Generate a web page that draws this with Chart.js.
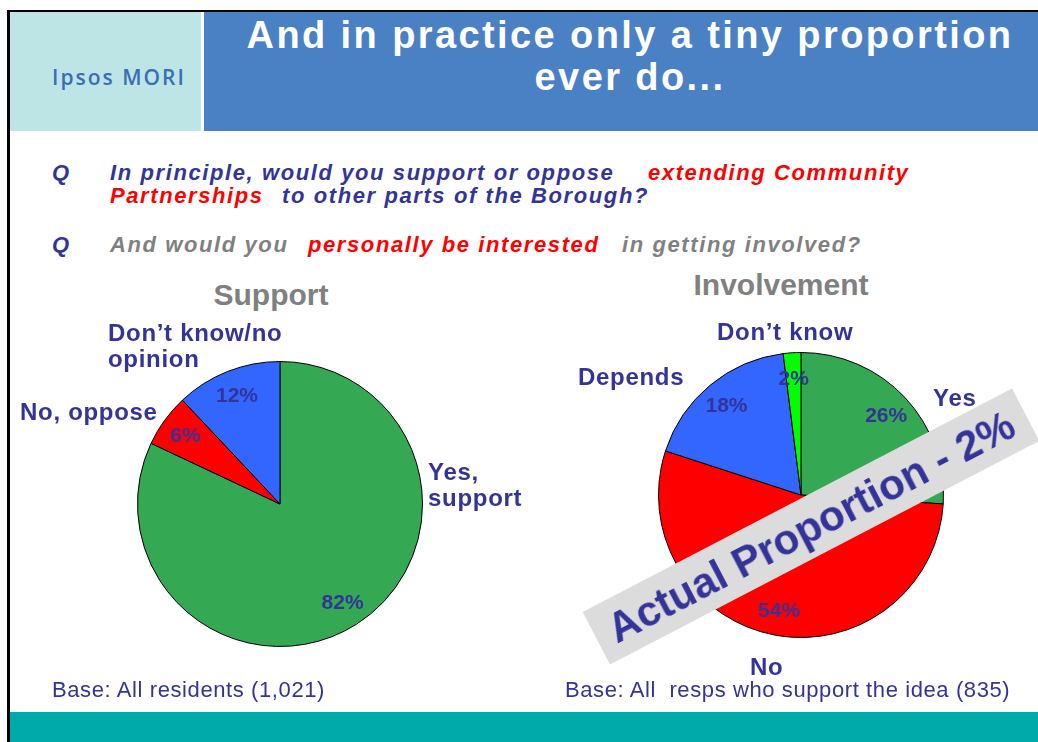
<!DOCTYPE html>
<html>
<head>
<meta charset="utf-8">
<title>Community Partnerships - support and involvement</title>
<script src="https://cdn.jsdelivr.net/npm/chart.js"></script>
<style>
  * { margin: 0; padding: 0; }
  body {
    width: 1038px; height: 742px;
    position: relative; overflow: hidden;
    background: #fff;
    font-family: 'Liberation Sans', Arial, sans-serif;
  }
  .abs { position: absolute; white-space: pre; }
  #frameTop { left: 7px; top: 10px; width: 1031px; height: 2px; background: #000; }
  #frameLeft { left: 7px; top: 10px; width: 3px; height: 732px; background: #000; }
  #logoBox { left: 10px; top: 12px; width: 191px; height: 119px; background: #bde5e5; }
  #titleBox { left: 204px; top: 12px; width: 834px; height: 119px; background: #4a80c4; }
  #footer { left: 10px; top: 712px; width: 1028px; height: 30px; background: #00aaaa; }

  #logo {
    left: 52px; top: 63px;
    font-family: 'Open Sans', sans-serif; font-weight: 600;
    font-size: 21px; line-height: 28px; color: #3a6db7; letter-spacing: 2px;
  }
  #title {
    left: 213px; top: 14px; width: 834px;
    text-align: center; color: #fff;
    font-weight: bold; font-size: 38px; line-height: 42px; letter-spacing: 2.4px;
  }

  .q { font-weight: bold; font-style: italic; font-size: 22px; line-height: 24px; letter-spacing: 1.6px; }
  .navy { color: #333399; }
  .red { color: #ff0000; }
  .grey { color: #808080; }

  .ctitle { font-weight: bold; font-size: 30px; line-height: 34px; color: #808080; text-align: center; width: 300px; }
  .cat { font-weight: bold; font-size: 24px; line-height: 26px; color: #333399; letter-spacing: 0.7px; }
  .base { font-size: 22px; line-height: 24px; color: #333399; letter-spacing: 0.6px; }

  #leftWrap { left: 0; top: 260px; width: 520px; height: 450px; }
  #rightWrap { left: 520px; top: 260px; width: 518px; height: 450px; }

  #banner {
    left: 569px; top: 497px; width: 484px; height: 59px;
    background: #dcdcdc;
    transform: rotate(-27.5deg);
    text-align: center;
    font-weight: bold; font-size: 42px; line-height: 60px; color: #333399;
  }
</style>
</head>
<body>
  <div class="abs" id="frameTop"></div>
  <div class="abs" id="frameLeft"></div>
  <div class="abs" id="logoBox"></div>
  <div class="abs" id="titleBox"></div>
  <div class="abs" id="footer"></div>

  <div class="abs" id="logo">Ipsos MORI</div>
  <div class="abs" id="title">And in practice only a tiny proportion
ever do...</div>

  <div class="abs q navy" style="left:52px; top:161px;">Q</div>
  <div class="abs q navy" style="left:110px; top:161px;">In principle, would you support or oppose</div>
  <div class="abs q red" style="left:648px; top:161px;">extending Community</div>
  <div class="abs q red" style="left:110px; top:184px;">Partnerships</div>
  <div class="abs q navy" style="left:282px; top:184px;">to other parts of the Borough?</div>

  <div class="abs q navy" style="left:52px; top:233px;">Q</div>
  <div class="abs q grey" style="left:110px; top:233px;">And would you</div>
  <div class="abs q red" style="left:308px; top:233px;">personally be interested</div>
  <div class="abs q grey" style="left:622px; top:233px;">in getting involved?</div>

  <div class="abs ctitle" style="left:121px; top:278px;">Support</div>
  <div class="abs ctitle" style="left:631px; top:268px;">Involvement</div>

  <div class="abs" id="leftWrap"><canvas id="supportChart" width="520" height="450"></canvas></div>
  <div class="abs" id="rightWrap"><canvas id="involvementChart" width="518" height="450"></canvas></div>

  <div id="catLabels"></div>

  <div class="abs" id="banner">Actual Proportion - 2%</div>

  <div class="abs base" style="left:52px; top:678px;">Base: All residents (1,021)</div>
  <div class="abs base" style="left:565px; top:678px;">Base: All  resps who support the idea (835)</div>

<script>
  // Support question
  const supportLabels = [['Yes,', 'support'], ['No, oppose'], ["Don\u2019t know/no", 'opinion']];
  const supportValues = [82, 6, 12];
  const supportColors = ['#35a853', '#ff0000', '#3366ff'];

  // Involvement question
  const involveLabels = [['Yes'], ['No'], ['Depends'], ["Don\u2019t know"]];
  const involveValues = [26, 54, 18, 2];
  const involveColors = ['#35a853', '#ff0000', '#3366ff', '#00ff00'];

  // where the category names sit on the slide (left, top)
  const supportLabelPos = [[428, 459], [20, 399], [108, 320]];
  const involveLabelPos = [[933, 385], [750, 654], [578, 364], [717, 319]];

  // percentages printed inside each slice
  const pctLabels = {
    id: 'pctLabels',
    afterDatasetsDraw(chart) {
      const ctx = chart.ctx;
      const meta = chart.getDatasetMeta(0);
      const values = chart.data.datasets[0].data;
      ctx.save();
      ctx.font = 'bold 21px "Liberation Sans", Arial, sans-serif';
      ctx.fillStyle = '#333399';
      ctx.textAlign = 'center';
      ctx.textBaseline = 'middle';
      meta.data.forEach((arc, i) => {
        const p = arc.getProps(['x', 'y', 'startAngle', 'endAngle', 'outerRadius'], true);
        const mid = (p.startAngle + p.endAngle) / 2;
        const r = p.outerRadius * 0.82;
        ctx.fillText(values[i] + '%', p.x + Math.cos(mid) * r, p.y + Math.sin(mid) * r + 1);
      });
      ctx.restore();
    }
  };

  function makePie(id, labels, values, colors, padding) {
    return new Chart(document.getElementById(id), {
      type: 'pie',
      data: {
        labels: labels,
        datasets: [{
          data: values,
          backgroundColor: colors,
          borderColor: '#000',
          borderWidth: 1
        }]
      },
      options: {
        responsive: false,
        animation: false,
        layout: { padding: padding },
        plugins: { legend: { display: false }, tooltip: { enabled: false } }
      },
      plugins: [pctLabels]
    });
  }

  makePie('supportChart', supportLabels, supportValues, supportColors,
    { left: 137, right: 97, top: 101, bottom: 63 });
  makePie('involvementChart', involveLabels, involveValues, involveColors,
    { left: 138, right: 94, top: 92, bottom: 72 });

  // category names as text next to the pies
  const holder = document.getElementById('catLabels');
  function addCats(labels, pos) {
    labels.forEach((lines, i) => {
      const d = document.createElement('div');
      d.className = 'abs cat';
      d.style.left = pos[i][0] + 'px';
      d.style.top = pos[i][1] + 'px';
      d.textContent = lines.join('\n');
      holder.appendChild(d);
    });
  }
  addCats(supportLabels, supportLabelPos);
  addCats(involveLabels, involveLabelPos);
</script>
</body>
</html>
